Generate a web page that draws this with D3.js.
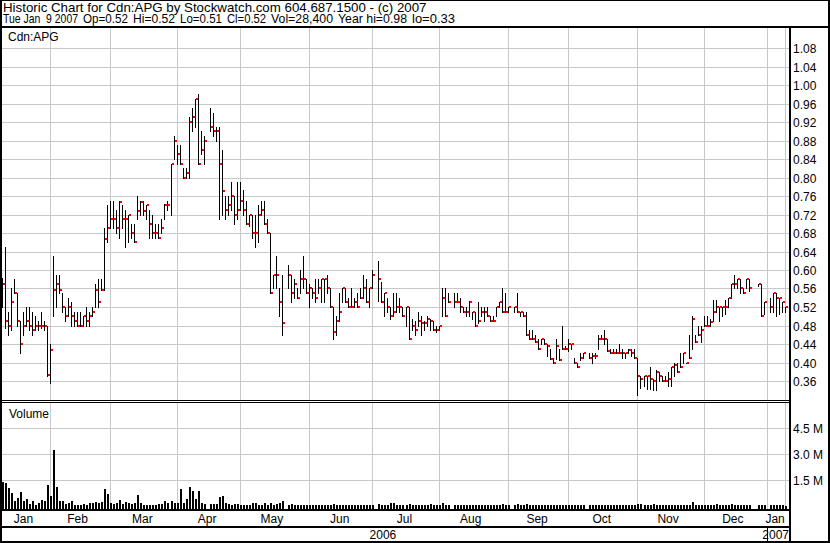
<!DOCTYPE html>
<html>
<head>
<meta charset="utf-8">
<script src="https://cdn.jsdelivr.net/npm/d3@7"></script>
<style>
  body { margin: 0; background: #fff; }
  svg { display: block; font-family: "Liberation Sans", Arial, sans-serif; }
  text { white-space: pre; }
</style>
</head>
<body>
<script>

// header text
const titleLine = "Historic Chart for Cdn:APG by Stockwatch.com 604.687.1500 - (c) 2007";
const quoteParts = ["Tue Jan  9 2007", "Op=0.52", "Hi=0.52", "Lo=0.51", "Cl=0.52", "Vol=28,400", "Year hi=0.98", "lo=0.33"];
const symbol = "Cdn:APG";

// axis ticks
const priceTicks = [0.36, 0.40, 0.44, 0.48, 0.52, 0.56, 0.60, 0.64, 0.68, 0.72, 0.76, 0.80, 0.84, 0.88, 0.92, 0.96, 1.00, 1.04, 1.08];
const volumeTicks = [1.5e6, 3.0e6, 4.5e6];

// trading calendar: weekdays from firstDay to lastDay, minus exchange holidays
const firstDay = "2006-01-10", lastDay = "2007-01-09";
const holidays = ["2006-04-14", "2006-05-22", "2006-07-03", "2006-08-07", "2006-09-04", "2006-10-09", "2006-12-25", "2006-12-26", "2007-01-01"];

// daily high / low / close, one per trading day
const highs = [
  .583, .65, .51, .56, .58, .55, .49, .51, .52, .52, .51, .50, .49, .51, .49, .48,                  // Jan
  .44, .63, .59, .59, .55, .52, .54, .53, .51, .51, .51, .50, .52, .51, .52, .57, .58, .58, .69, .74, // Feb
  .75, .75, .73, .75, .74, .73, .72, .70, .70, .76, .75, .75, .74, .73, .72, .70, .70, .71, .742, .75, .83, .89, .87, // Mar
  .87, .82, .82, .93, .95, .97, .98, .90, .89, .951, .94, .91, .91, .86, .76, .76, .79, .76, .79,   // Apr
  .79, .774, .75, .72, .72, .72, .74, .75, .75, .71, .68, .59, .63, .56, .59, .61, .59, .58, .56, .60, .63, .58, // May
  .57, .56, .58, .58, .58, .58, .59, .56, .52, .50, .55, .56, .56, .54, .56, .54, .55, .56, .59, .58, .56, .60, // Jun
  .62, .573, .55, .54, .52, .55, .55, .54, .52, .52, .52, .495, .49, .51, .50, .49, .50, .495, .49, .48, // Jul
  .48, .56, .56, .55, .55, .55, .54, .52, .52, .533, .51, .51, .53, .52, .52, .52, .50, .50, .52, .53, .56, .55, // Aug
  .52, .52, .55, .51, .51, .51, .47, .47, .46, .45, .45, .45, .44, .43, .41, .45, .43, .48, .436, .45, // Sep
  .44, .41, .40, .42, .42, .42, .42, .42, .46, .46, .47, .45, .43, .43, .43, .44, .43, .42, .43, .43, .43, // Oct
  .41, .37, .37, .37, .39, .365, .383, .38, .37, .37, .38, .39, .40, .40, .42, .42, .40, .46, .50, .46, .48, .48, // Nov
  .50, .50, .495, .535, .535, .52, .52, .535, .54, .57, .59, .58, .58, .56, .58, .58, .57, .57, .53, // Dec
  .54, .55, .55, .54, .53, .52                                                                       // Jan
];
const lows = [
  .521, .475, .46, .47, .55, .48, .42, .46, .48, .47, .46, .47, .47, .475, .47, .37,
  .356, .50, .52, .55, .51, .49, .50, .48, .48, .48, .48, .48, .48, .48, .50, .52, .52, .557, .557, .66,
  .69, .69, .68, .67, .69, .65, .66, .67, .66, .71, .72, .72, .71, .67, .67, .67, .67, .68, .71, .73, .72, .84, .83,
  .83, .80, .80, .80, .90, .91, .83, .85, .83, .90, .89, .88, .71, .72, .71, .72, .73, .70, .71,
  .73, .72, .70, .695, .67, .65, .66, .72, .70, .68, .55, .56, .56, .50, .46, .56, .53, .54, .54, .55, .56, .55,
  .52, .54, .53, .55, .53, .53, .55, .52, .45, .46, .49, .53, .53, .52, .52, .52, .52, .54, .54, .53, .52, .56,
  .533, .53, .50, .51, .495, .50, .51, .51, .50, .48, .45, .47, .46, .48, .46, .47, .48, .47, .47, .467,
  .47, .50, .50, .53, .52, .53, .51, .51, .50, .50, .494, .48, .486, .50, .49, .50, .49, .49, .50, .52, .51, .51,
  .51, .51, .51, .50, .50, .46, .45, .45, .445, .43, .44, .44, .415, .407, .40, .407, .405, .43, .43, .425,
  .43, .40, .39, .405, .41, .41, .40, .41, .43, .45, .44, .425, .42, .42, .42, .42, .41, .41, .42, .415, .41,
  .33, .345, .35, .343, .343, .34, .34, .36, .36, .36, .35, .35, .37, .38, .39, .40, .40, .41, .43, .445, .46, .445,
  .48, .48, .48, .49, .51, .49, .50, .505, .52, .54, .56, .56, .55, .55, .56, .555, .565, .50, .505,
  .51, .51, .50, .505, .51, .51
];
const closes = [
  .57, .49, .48, .53, .55, .49, .44, .48, .49, .48, .47, .48, .48, .48, .48, .373,
  .428, .557, .57, .557, .52, .50, .52, .50, .49, .48, .48, .50, .49, .50, .51, .557, .53, .557, .667, .69,
  .71, .71, .69, .748, .71, .71, .718, .68, .66, .728, .748, .728, .74, .70, .68, .68, .67, .69, .74, .74, .83, .88, .85,
  .83, .80, .81, .92, .93, .97, .83, .86, .88, .91, .90, .90, .83, .77, .73, .74, .76, .72, .73,
  .75, .73, .70, .72, .68, .68, .72, .73, .70, .68, .55, .59, .59, .53, .485, .59, .55, .57, .54, .58, .58, .55,
  .56, .55, .54, .56, .58, .58, .56, .52, .466, .49, .51, .56, .53, .52, .52, .53, .52, .54, .56, .53, .56, .59,
  .58, .53, .55, .52, .50, .51, .52, .52, .50, .52, .45, .48, .47, .49, .485, .485, .495, .49, .47, .47,
  .48, .54, .50, .53, .53, .53, .52, .51, .51, .53, .51, .48, .49, .51, .51, .50, .49, .49, .52, .53, .51, .51,
  .52, .52, .51, .51, .50, .46, .45, .45, .445, .43, .45, .44, .435, .407, .40, .435, .405, .43, .43, .44,
  .44, .40, .39, .41, .42, .41, .415, .415, .45, .45, .45, .425, .42, .42, .42, .42, .42, .42, .427, .42, .41,
  .37, .365, .37, .37, .365, .36, .38, .37, .36, .36, .365, .39, .395, .38, .39, .42, .40, .41, .495, .445, .46, .47,
  .48, .48, .487, .51, .52, .52, .52, .52, .54, .57, .57, .58, .56, .55, .58, .56, .57, .50, .53,
  .52, .55, .54, .54, .53, .52
];
// daily volume, millions of shares
const volumes = [
  1.38, 1.33, 1.04, 0.75, 0.30, 0.46, 0.80, 0.30, 0.42, 0.13, 0.30, 0.08, 0.17, 0.36, 0.30, 1.23,
  0.56, 3.25, 1.10, 0.30, 0.30, 0.10, 0.17, 0.30, 0.08, 0.03, 0.05, 0.10, 0.08, 0.17, 0.15, 0.23, 0.17, 0.23, 1.00, 0.69,
  0.17, 0.10, 0.17, 0.36, 0.12, 0.23, 0.17, 0.10, 0.17, 0.65, 0.17, 0.08, 0.08, 0.08, 0.08, 0.08, 0.12, 0.12, 0.30, 0.15, 0.30, 0.17, 0.17,
  1.00, 0.17, 0.42, 1.10, 0.85, 0.38, 0.88, 0.17, 0.12, 0.10, 0.12, 0.10, 0.50, 0.56, 0.17, 0.12, 0.08, 0.12, 0.10,
  0.05, 0.08, 0.05, 0.08, 0.17, 0.17, 0.08, 0.08, 0.17, 0.08, 0.17, 0.08, 0.12, 0.17, 0.30, 0.05, 0.10, 0.03, 0.05, 0.05, 0.05, 0.03,
  0.05, 0.03, 0.05, 0.05, 0.08, 0.05, 0.08, 0.03, 0.12, 0.05, 0.03, 0.03, 0.03, 0.05, 0.03, 0.03, 0.03, 0.03, 0.05, 0.03, 0.03, 0.08,
  0.10, 0.05, 0.08, 0.05, 0.20, 0.15, 0.05, 0.08, 0.05, 0.05, 0.12, 0.05, 0.05, 0.03, 0.08, 0.03, 0.05, 0.10, 0.05, 0.05,
  0.08, 0.15, 0.05, 0.03, 0.05, 0.03, 0.03, 0.05, 0.03, 0.03, 0.05, 0.03, 0.05, 0.08, 0.05, 0.03, 0.03, 0.05, 0.05, 0.08, 0.10, 0.05,
  0.05, 0.08, 0.10, 0.05, 0.08, 0.10, 0.08, 0.05, 0.05, 0.08, 0.05, 0.03, 0.05, 0.05, 0.03, 0.05, 0.08, 0.05, 0.03, 0.05,
  0.03, 0.05, 0.03, 0.05, 0.03, 0.05, 0.08, 0.05, 0.05, 0.03, 0.05, 0.03, 0.05, 0.03, 0.05, 0.05, 0.05, 0.08, 0.03, 0.05, 0.08,
  0.12, 0.10, 0.08, 0.05, 0.08, 0.10, 0.05, 0.05, 0.03, 0.05, 0.05, 0.05, 0.03, 0.05, 0.05, 0.03, 0.05, 0.08, 0.23, 0.08, 0.05, 0.08,
  0.05, 0.08, 0.05, 0.08, 0.10, 0.05, 0.08, 0.05, 0.05, 0.10, 0.08, 0.05, 0.08, 0.05, 0.03, 0.05, 0.03, 0.05, 0.03,
  0.03, 0.05, 0.05, 0.03, 0.03, 0.0284
];

const width = 830, height = 543;
const plotR = 789;
const priceTop = 28, priceBot = 400, volTop = 403, volBot = 509;
const grey = "#c8c8c8";

let fmt = d3.utcFormat("%Y-%m-%d"), parse = d3.utcParse("%Y-%m-%d");
let weekdays = d3.utcDays(parse(firstDay), d3.utcDay.offset(parse(lastDay), 1)).filter(d => d.getUTCDay() % 6 !== 0);
let tradingDays = weekdays.filter(d => !holidays.includes(fmt(d)));
let bars = tradingDays.map((d, i) => ({ date: d, high: highs[i], low: lows[i], close: closes[i], volume: volumes[i] * 1e6 }));

let x = d3.scalePoint().domain(weekdays.map(fmt)).range([1.8, 785.1]);
let y = d3.scaleLinear().domain([0.36, 1.08]).range([381, 48]);
let yVol = d3.scaleLinear().domain([0, 4.5e6]).range([506, 428]);
let px = d => Math.round(x(fmt(d)));

let svg = d3.select("body").append("svg").attr("width", width).attr("height", height);
let crisp = svg.append("g").attr("shape-rendering", "crispEdges");

// month boundaries: last weekday on or before the 1st of each month
let months = d3.utcMonths(d3.utcMonth.ceil(parse(firstDay)), d3.utcMonth.offset(parse(lastDay), 1));
let boundaries = months.map(m => weekdays.filter(d => d <= m).pop()).filter(d => d);

// grid
let grid = crisp.append("g").attr("fill", grey);
grid.selectAll(".hp").data(priceTicks).join("rect")
    .attr("x", 2).attr("width", plotR - 2)
    .attr("y", d => Math.round(y(d))).attr("height", 1);
grid.selectAll(".hv").data(volumeTicks).join("rect")
    .attr("x", 2).attr("width", plotR - 2)
    .attr("y", d => Math.round(yVol(d))).attr("height", 1);
grid.selectAll(".vp").data(boundaries).join("rect")
    .attr("x", px).attr("width", 1)
    .attr("y", priceTop).attr("height", priceBot - priceTop);
grid.selectAll(".vv").data(boundaries).join("rect")
    .attr("x", px).attr("width", 1)
    .attr("y", volTop).attr("height", volBot - volTop);

// price bars: high-low stroke with the close tick on the right
crisp.append("g").selectAll("rect").data(bars).join("rect")
    .attr("x", d => px(d.date)).attr("width", 1)
    .attr("y", d => Math.round(y(d.high)))
    .attr("height", d => Math.round(y(d.low)) - Math.round(y(d.high)) + 1)
    .attr("fill", "#000");
crisp.append("g").selectAll("rect").data(bars).join("rect")
    .attr("x", d => px(d.date) + 1).attr("width", 2)
    .attr("y", d => Math.round(y(d.close)) - 1).attr("height", 2)
    .attr("fill", "#ff0000");

// volume bars
crisp.append("g").selectAll("rect").data(bars).join("rect")
    .attr("x", d => px(d.date)).attr("width", 2)
    .attr("y", d => Math.round(yVol(d.volume)))
    .attr("height", d => volBot - Math.round(yVol(d.volume)))
    .attr("fill", "#000");

// frame
let frame = [
    [0, 0, width, 1], [0, 0, 2, height], [width - 2, 0, 2, height], [0, height - 2, width, 2],
    [0, 26, width, 2], [plotR, 28, 2, height - 28],
    [0, priceBot, plotR, 1], [0, priceBot + 2, plotR, 1],
    [0, volBot, plotR, 2], [0, 526, plotR, 2]
];
crisp.append("g").selectAll("rect").data(frame).join("rect")
    .attr("x", d => d[0]).attr("y", d => d[1]).attr("width", d => d[2]).attr("height", d => d[3])
    .attr("fill", "#000");

// year separators in the bottom row
let yearStarts = boundaries.filter((d, i) => i > 0 && d.getUTCFullYear() !== boundaries[i - 1].getUTCFullYear() + 0 && d.getUTCMonth() === 0 || (d.getUTCMonth() === 11 && d.getUTCDate() > 28));
crisp.append("g").selectAll("rect").data(yearStarts).join("rect")
    .attr("x", px).attr("width", 1).attr("y", 528).attr("height", 13).attr("fill", "#000");

// header
svg.append("text").attr("x", 3).attr("y", 12).attr("font-size", 13.3).text(titleLine);
const quoteX = [3, 83, 133, 180, 227, 271, 338, 412, 462];
svg.append("g").selectAll("text").data(quoteParts).join("text")
    .attr("x", (d, i) => quoteX[i]).attr("y", 23).attr("font-size", 13).text(d => d)
    .each(function(d, i) {
        let room = quoteX[i + 1] - quoteX[i] - 5;
        if (this.getComputedTextLength() > room)
            d3.select(this).attr("textLength", room).attr("lengthAdjust", "spacingAndGlyphs");
    });

svg.append("text").attr("x", 8).attr("y", 41).attr("font-size", 12).text(symbol);
svg.append("text").attr("x", 9).attr("y", 418).attr("font-size", 12).text("Volume");

// right axis labels
svg.append("g").selectAll("text").data(priceTicks).join("text")
    .attr("x", 793).attr("y", d => Math.round(y(d)) + 4.5).attr("font-size", 12)
    .text(d3.format(".2f"));
svg.append("g").selectAll("text").data(volumeTicks).join("text")
    .attr("x", 793).attr("y", d => Math.round(yVol(d)) + 4.5).attr("font-size", 12)
    .text(d => d3.format(".1f")(d / 1e6) + " M");

// month labels, centred over each month's weekdays
let monthGroups = d3.groups(weekdays, d => d3.utcMonth.floor(d).getTime());
svg.append("g").selectAll("text").data(monthGroups).join("text")
    .attr("x", d => (x(fmt(d[1][0])) + x(fmt(d[1][d[1].length - 1]))) / 2 - 1)
    .attr("y", 523).attr("font-size", 12).attr("text-anchor", "middle")
    .text(d => d3.utcFormat("%b")(new Date(d[0])));

// year labels
let yearGroups = d3.groups(weekdays, d => d.getUTCFullYear());
svg.append("g").selectAll("text").data(yearGroups).join("text")
    .attr("y", 539).attr("font-size", 12).attr("text-anchor", "middle")
    .attr("x", d => (x(fmt(d[1][0])) + x(fmt(d[1][d[1].length - 1]))) / 2)
    .text(d => d[0])
    .each(function() {
        let box = this.getBBox();
        if (box.x + box.width > plotR - 1) d3.select(this).attr("text-anchor", "end").attr("x", plotR);
    });

</script>
</body>
</html>
